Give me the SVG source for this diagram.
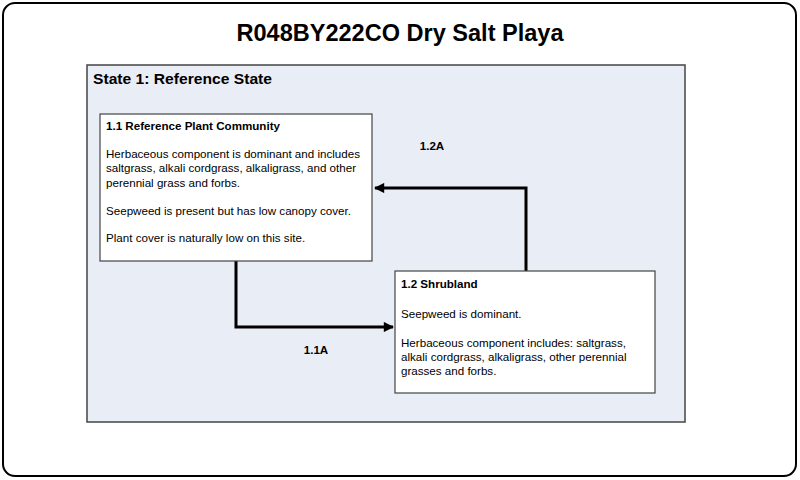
<svg xmlns="http://www.w3.org/2000/svg" width="800" height="480" viewBox="0 0 800 480">
<style>
text{font-family:"Liberation Sans",Arial,sans-serif;fill:#000}
.t{font-size:11.6px}
.b{font-weight:bold}
.box{fill:#fff;stroke:#444;stroke-width:1.2}
.conn{fill:none;stroke:#000;stroke-width:3}
</style>
<defs>
<marker id="ah" viewBox="0 0 10 10" refX="9" refY="5" markerWidth="4" markerHeight="3.4" orient="auto" markerUnits="strokeWidth">
<path d="M0,0L10,5L0,10z" fill="#000"/>
</marker>
</defs>
<rect x="3" y="3" width="793" height="473" rx="12" fill="#fff" stroke="#000" stroke-width="2"/>
<text x="400" y="41" text-anchor="middle" class="b" font-size="23" textLength="327" lengthAdjust="spacingAndGlyphs">R048BY222CO Dry Salt Playa</text>
<g id="state1">
<rect x="87" y="65" width="598" height="357" fill="#e9edf5" stroke="#444" stroke-width="1.5"/>
<text x="93" y="84" class="b" font-size="15" textLength="179" lengthAdjust="spacingAndGlyphs">State 1: Reference State</text>
</g>
<g id="connectors">
<path class="conn" d="M236,261V327H393" marker-end="url(#ah)"/>
<path class="conn" d="M526,271V188H375" marker-end="url(#ah)"/>
<text x="316" y="354" text-anchor="middle" class="t b">1.1A</text>
<text x="432" y="150" text-anchor="middle" class="t b">1.2A</text>
</g>
<g id="n11">
<rect class="box" x="100" y="114" width="272" height="147"/>
<text class="t b" x="106" y="130">1.1 Reference Plant Community</text>
<text class="t" x="106" y="158">Herbaceous component is dominant and includes</text>
<text class="t" x="106" y="172">saltgrass, alkali cordgrass, alkaligrass, and other</text>
<text class="t" x="106" y="187">perennial grass and forbs.</text>
<text class="t" x="106" y="215">Seepweed is present but has low canopy cover.</text>
<text class="t" x="106" y="242">Plant cover is naturally low on this site.</text>
</g>
<g id="n12">
<rect class="box" x="395" y="271" width="260" height="122"/>
<text class="t b" x="401" y="288">1.2 Shrubland</text>
<text class="t" x="401" y="318">Seepweed is dominant.</text>
<text class="t" x="401" y="347">Herbaceous component includes: saltgrass,</text>
<text class="t" x="401" y="361">alkali cordgrass, alkaligrass, other perennial</text>
<text class="t" x="401" y="375">grasses and forbs.</text>
</g>
</svg>
